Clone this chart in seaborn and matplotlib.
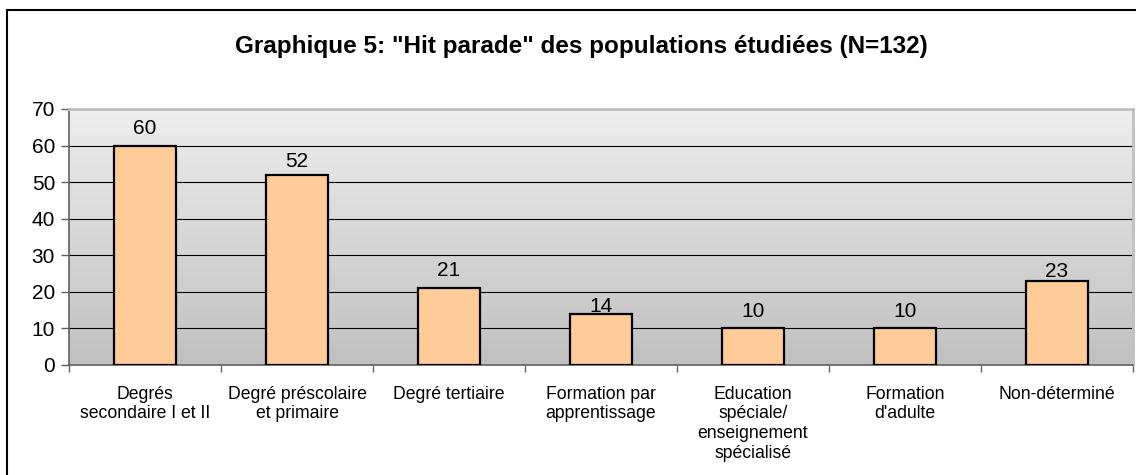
import numpy as np
import pandas as pd
import matplotlib
matplotlib.use("Agg")
import matplotlib.pyplot as plt
import seaborn as sns
from matplotlib.patches import Rectangle

categories = ["Degrés\nsecondaire I et II", "Degré préscolaire\net primaire", "Degré tertiaire",
              "Formation par\napprentissage", "Education\nspéciale/\nenseignement\nspécialisé",
              "Formation\nd'adulte", "Non-déterminé"]
values = [60, 52, 21, 14, 10, 10, 23]
yticks = [0, 10, 20, 30, 40, 50, 60, 70]
title = "Graphique 5: \"Hit parade\" des populations étudiées (N=132)"

# pixel gap between bar top and value label baseline (as placed in the original)
label_gaps = [11, 7, 11, 1, 10, 10, 3]

sns.set_theme(style="white")
plt.rcParams['font.family'] = ['Liberation Sans', 'DejaVu Sans']
plt.rcParams['text.color'] = 'black'
plt.rcParams['xtick.color'] = 'black'
plt.rcParams['ytick.color'] = 'black'

df = pd.DataFrame({"cat": categories, "val": values})

fig = plt.figure(figsize=(11.36, 4.75), dpi=100)
fig.patch.set_facecolor("white")
ax = fig.add_axes([69/1136, 1-365/475, (1133-69)/1136, (365-109)/475])

# gradient background
grad = np.linspace(0, 1, 256).reshape(-1, 1)
cmap = matplotlib.colors.LinearSegmentedColormap.from_list("g", ["#c0c0c0", "#eeeeee"])
ax.imshow(grad, cmap=cmap, aspect="auto", extent=[0, 1, 0, 1], origin="lower",
          transform=ax.transAxes, zorder=0)

sns.barplot(data=df, x="cat", y="val", color="#FFCC99", saturation=1, width=0.41,
            edgecolor="black", linewidth=1.6, ax=ax, zorder=3)

ax.set_xlim(-0.5, len(categories) - 0.5)
ax.set_ylim(0, 70)
ax.set_yticks(yticks)
ax.set_yticklabels([str(t) for t in yticks], fontsize=15)
for t in yticks[1:]:
    ax.axhline(t, color="black", lw=0.8, zorder=1)

ax.set_xticks(range(len(categories)))
ax.set_xticklabels(categories, fontsize=12.7, linespacing=1.2, va="top")
ax.tick_params(axis="x", which="major", length=0, pad=15)
ax.set_xticks(np.arange(-0.5, len(categories), 1), minor=True)
ax.tick_params(axis="x", which="minor", length=5, width=1, color="#606060", direction="out", bottom=True)
ax.tick_params(axis="y", length=6, width=1, color="#606060", direction="out", left=True, pad=4)
ax.set_xlabel("")
ax.set_ylabel("")

for i, v in enumerate(values):
    ax.annotate(str(v), (i, v), xytext=(0, label_gaps[i] + 1), textcoords="offset pixels",
                ha="center", va="baseline", fontsize=15, color="black", zorder=0.5)

for s in ["left", "bottom"]:
    ax.spines[s].set_color("#606060")
    ax.spines[s].set_linewidth(1.2)
for s in ["top", "right"]:
    ax.spines[s].set_color("#c0c0c0")
    ax.spines[s].set_linewidth(2)
    ax.spines[s].set_visible(True)

fig.text(581/1136, 1-47/475, title, ha="center", va="center", fontsize=17.5, fontweight="bold")

fig.patches.append(Rectangle((7/1136, -0.05), 1.2, 1-10/475+0.05, transform=fig.transFigure,
                             fill=False, edgecolor="black", lw=1.5, zorder=10))

fig.savefig("out.png", dpi=100)
